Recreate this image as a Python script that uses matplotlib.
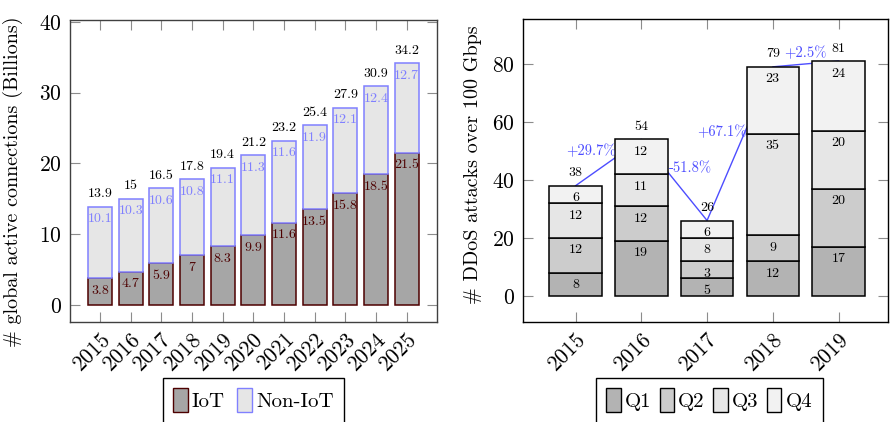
import matplotlib.pyplot as plt
from matplotlib.patches import Patch

# -------------------------
# DATA
# -------------------------

years_iot = [2015, 2016, 2017, 2018, 2019, 2020, 2021, 2022, 2023, 2024, 2025]
iot = [3.8, 4.7, 5.9, 7.0, 8.3, 9.9, 11.6, 13.5, 15.8, 18.5, 21.5]
non_iot = [10.1, 10.3, 10.6, 10.8, 11.1, 11.3, 11.6, 11.9, 12.1, 12.4, 12.7]
iot_labels = ["3.8", "4.7", "5.9", "7", "8.3", "9.9", "11.6", "13.5", "15.8", "18.5", "21.5"]
non_iot_labels = ["10.1", "10.3", "10.6", "10.8", "11.1", "11.3", "11.6", "11.9", "12.1", "12.4", "12.7"]
total_iot_labels = ["13.9", "15", "16.5", "17.8", "19.4", "21.2", "23.2", "25.4", "27.9", "30.9", "34.2"]

years_ddos = [2015, 2016, 2017, 2018, 2019]
q1 = [8, 19, 6, 12, 17]
q2 = [12, 12, 6, 9, 20]
q3 = [12, 11, 8, 35, 20]
q4 = [6, 12, 6, 23, 24]
q1_labels = ["8", "19", "5", "12", "17"]
q2_labels = ["12", "12", "3", "9", "20"]
q3_labels = ["12", "11", "8", "35", "20"]
q4_labels = ["6", "12", "6", "23", "24"]
total_ddos_labels = ["38", "54", "26", "79", "81"]
growth_labels = ["+29.7%", "-51.8%", "+67.1%", "+2.5%"]
growth_align = ["right", "left", "right", "center"]

# -------------------------
# STYLE
# -------------------------

plt.rcParams["font.family"] = ["cmr10", "DejaVu Serif"]
plt.rcParams["axes.formatter.use_mathtext"] = True

frame_color = "#404040"
tick_color = "#8c8c8c"
iot_face = "#a6a6a6"
iot_edge = "#4d0000"
non_face = "#e6e6e6"
non_edge = "#8080ff"
blue = "#4d4dff"
q_faces = ["#b3b3b3", "#cccccc", "#e6e6e6", "#f2f2f2"]

fig = plt.figure(figsize=(8.9, 4.22), dpi=100)
ax1 = fig.add_axes([0.0787, 0.237, 0.412, 0.716])
ax2 = fig.add_axes([0.5876, 0.237, 0.410, 0.718])


def style_axes(ax):
    for sp in ax.spines.values():
        sp.set_color(frame_color)
        sp.set_linewidth(1.0)
    ax.tick_params(direction="in", length=7, width=0.8, color=tick_color,
                   top=True, right=True, labelsize=15.5, pad=6)
    for lab in ax.get_xticklabels():
        lab.set_rotation(45)
        lab.set_ha("right")
        lab.set_va("top")
        lab.set_rotation_mode("anchor")


def label(ax, x, y, text, dy, color):
    ax.annotate(text, (x, y), xytext=(0, dy), textcoords="offset points",
                ha="center", va="center", fontsize=10, color=color, zorder=5)


# -------------------------
# LEFT: IOT CONNECTIONS
# -------------------------

w1 = 0.78
ax1.bar(years_iot, iot, w1, color=iot_face, edgecolor=iot_edge, linewidth=1.1, zorder=2)
ax1.bar(years_iot, non_iot, w1, bottom=iot, color=non_face, edgecolor=non_edge,
        linewidth=1.1, zorder=2)

for i, x in enumerate(years_iot):
    top = iot[i] + non_iot[i]
    label(ax1, x, iot[i], iot_labels[i], -9, iot_edge)
    label(ax1, x, top, non_iot_labels[i], -9, non_edge)
    label(ax1, x, top, total_iot_labels[i], 9, "black")

ax1.set_xlim(2014.02, 2025.98)
ax1.set_ylim(-2.4, 40.3)
ax1.set_xticks(years_iot)
ax1.set_yticks([0, 10, 20, 30, 40])
ax1.set_ylabel("# global active connections (Billions)", fontsize=14.5)
ax1.yaxis.set_label_coords(-0.128, 0.464)
style_axes(ax1)

ax1.legend(handles=[Patch(facecolor=iot_face, edgecolor=iot_edge, label="IoT"),
                    Patch(facecolor=non_face, edgecolor=non_edge, label="Non-IoT")],
           ncol=2, loc="upper center", bbox_to_anchor=(0.5, -0.15),
           fontsize=15, fancybox=False, edgecolor="black", framealpha=1,
           handlelength=0.7, handleheight=1.4, handletextpad=0.2,
           columnspacing=0.6, borderpad=0.5)

# -------------------------
# RIGHT: DDOS ATTACKS
# -------------------------

w2 = 0.8
totals = [a + b + c + d for a, b, c, d in zip(q1, q2, q3, q4)]
ax2.plot(years_ddos, totals, color=blue, linewidth=1.0, zorder=1)

bottom = [0] * len(years_ddos)
for vals, labs, face in zip([q1, q2, q3, q4],
                            [q1_labels, q2_labels, q3_labels, q4_labels], q_faces):
    ax2.bar(years_ddos, vals, w2, bottom=bottom, color=face, edgecolor="black",
            linewidth=1.1, zorder=2)
    bottom = [b + v for b, v in zip(bottom, vals)]
    for i, x in enumerate(years_ddos):
        label(ax2, x, bottom[i], labs[i], -9, "black")

for i, x in enumerate(years_ddos):
    label(ax2, x, totals[i], total_ddos_labels[i], 9, "black")

for i in range(len(growth_labels)):
    xm = (years_ddos[i] + years_ddos[i + 1]) / 2
    ym = (totals[i] + totals[i + 1]) / 2
    dx = {"right": 5, "left": -4, "center": 0}[growth_align[i]]
    ax2.annotate(growth_labels[i], (xm, ym), xytext=(dx, 3), textcoords="offset points",
                 ha=growth_align[i], va="bottom", fontsize=10.5, color=blue, zorder=6)

ax2.set_xlim(2014.2, 2019.75)
ax2.set_ylim(-9, 95.5)
ax2.set_xticks(years_ddos)
ax2.set_yticks([0, 20, 40, 60, 80])
ax2.set_ylabel("# DDoS attacks over 100 Gbps", fontsize=14.5)
ax2.yaxis.set_label_coords(-0.112, 0.52)
style_axes(ax2)
for sp in ax2.spines.values():
    sp.set_color("black")

ax2.legend(handles=[Patch(facecolor=f, edgecolor="black", label="Q%d" % (k + 1))
                    for k, f in enumerate(q_faces)],
           ncol=4, loc="upper center", bbox_to_anchor=(0.51, -0.15),
           fontsize=15, fancybox=False, edgecolor="black", framealpha=1,
           handlelength=0.7, handleheight=1.4, handletextpad=0.2,
           columnspacing=0.4, borderpad=0.5)

# -------------------------
# SAVE
# -------------------------

fig.savefig("out.png", dpi=100)
